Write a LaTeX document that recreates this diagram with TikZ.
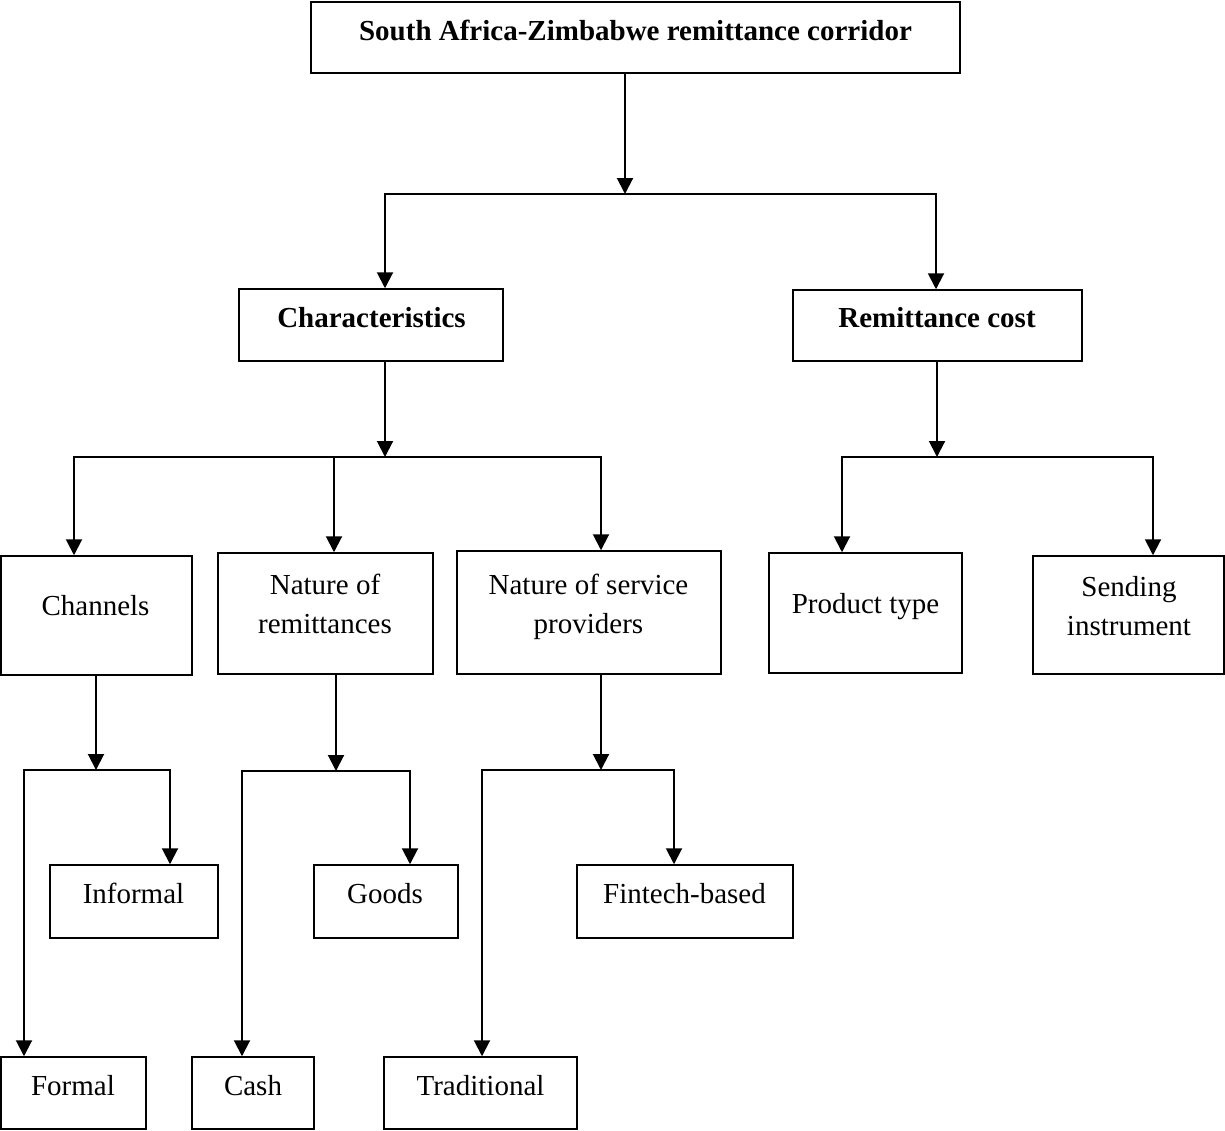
\documentclass[tikz,border=0pt]{standalone}
\usepackage{fontspec}
\setmainfont{Liberation Serif}
\usetikzlibrary{arrows.meta}
\begin{document}
\begin{tikzpicture}[x=1pt,y=-1pt,
  box/.style={draw=black,line width=1.5pt,rectangle,inner sep=0pt},
  txt/.style={anchor=base,inner sep=0pt,align=center,font=\fontsize{29}{39}\selectfont},
  btxt/.style={txt,font=\fontsize{29}{39}\selectfont\bfseries},
  conn/.style={draw=black,line width=2pt},
  arr/.style={conn,-{Triangle[width=16pt,length=16pt]}}]
\useasboundingbox (0,0) rectangle (1225,1130);
% boxes
\node[box,minimum width=649,minimum height=71] (top) at (635.5,37.5) {};
\node[box,minimum width=264,minimum height=72] (char) at (371,325) {};
\node[box,minimum width=289,minimum height=71] (cost) at (937.5,325.5) {};
\node[box,minimum width=191,minimum height=119] (chan) at (96.4,615.5) {};
\node[box,minimum width=215,minimum height=121] (natr) at (325.5,613.5) {};
\node[box,minimum width=264,minimum height=123] (nats) at (589,612.5) {};
\node[box,minimum width=193,minimum height=120] (prod) at (865.5,613) {};
\node[box,minimum width=191,minimum height=118] (send) at (1128.6,615) {};
\node[box,minimum width=168,minimum height=73] (inf) at (134,901.5) {};
\node[box,minimum width=144,minimum height=73] (goods) at (386,901.5) {};
\node[box,minimum width=216,minimum height=73] (fin) at (685,901.5) {};
\node[box,minimum width=145,minimum height=72] (formal) at (73.4,1093) {};
\node[box,minimum width=122,minimum height=72] (cash) at (253,1093) {};
\node[box,minimum width=193,minimum height=72] (trad) at (480.5,1093) {};
% texts
\node[btxt] (top-t) at (635.5,40) {South Africa-Zimbabwe remittance corridor};
\node[btxt] (char-t) at (371.5,327) {Characteristics};
\node[btxt] (cost-t) at (937,327) {Remittance cost};
\node[txt] (chan-t) at (95.5,615) {Channels};
\node[txt] (natr-t) at (325,633) {Nature of\\remittances};
\node[txt] (nats-t) at (588.5,633) {Nature of service\\providers};
\node[txt] (prod-t) at (865.5,613) {Product type};
\node[txt] (send-t) at (1129,635) {Sending\\instrument};
\node[txt] (inf-t) at (133.5,903) {Informal};
\node[txt] (goods-t) at (385,903) {Goods};
\node[txt] (fin-t) at (684.5,903) {Fintech-based};
\node[txt] (formal-t) at (73,1095) {Formal};
\node[txt] (cash-t) at (253,1095) {Cash};
\node[txt] (trad-t) at (480.5,1095) {Traditional};
% junctions
\coordinate (j0) at (625,194);
\coordinate (j1) at (385,457);
\coordinate (j2) at (937,457);
\coordinate (j3) at (96,770);
\coordinate (j4) at (336,771);
\coordinate (j5) at (601,770);
% connectors
\draw[arr] (top.south -| j0) -- (j0);
\draw[arr] (j0) -| ([xshift=14pt]char.north);
\draw[arr] (j0) -| ([xshift=-1.5pt]cost.north);
\draw[arr] (char.south -| j1) -- (j1);
\draw[arr] (j1) -| ([xshift=-22.4pt]chan.north);
\draw[arr] (j1) -| ([xshift=8.5pt]natr.north);
\draw[arr] (j1) -| ([xshift=12pt]nats.north);
\draw[arr] (cost.south -| j2) -- (j2);
\draw[arr] (j2) -| ([xshift=-23.5pt]prod.north);
\draw[arr] (j2) -| ([xshift=24.4pt]send.north);
\draw[arr] (chan.south -| j3) -- (j3);
\draw[arr] (j3) -| ([xshift=36pt]inf.north);
\draw[arr] (j3) -| ([xshift=-49.4pt]formal.north);
\draw[arr] (natr.south -| j4) -- (j4);
\draw[arr] (j4) -| ([xshift=24pt]goods.north);
\draw[arr] (j4) -| ([xshift=-11pt]cash.north);
\draw[arr] (nats.south -| j5) -- (j5);
\draw[arr] (j5) -| ([xshift=-11pt]fin.north);
\draw[arr] (j5) -| ([xshift=1.5pt]trad.north);
\end{tikzpicture}
\end{document}
